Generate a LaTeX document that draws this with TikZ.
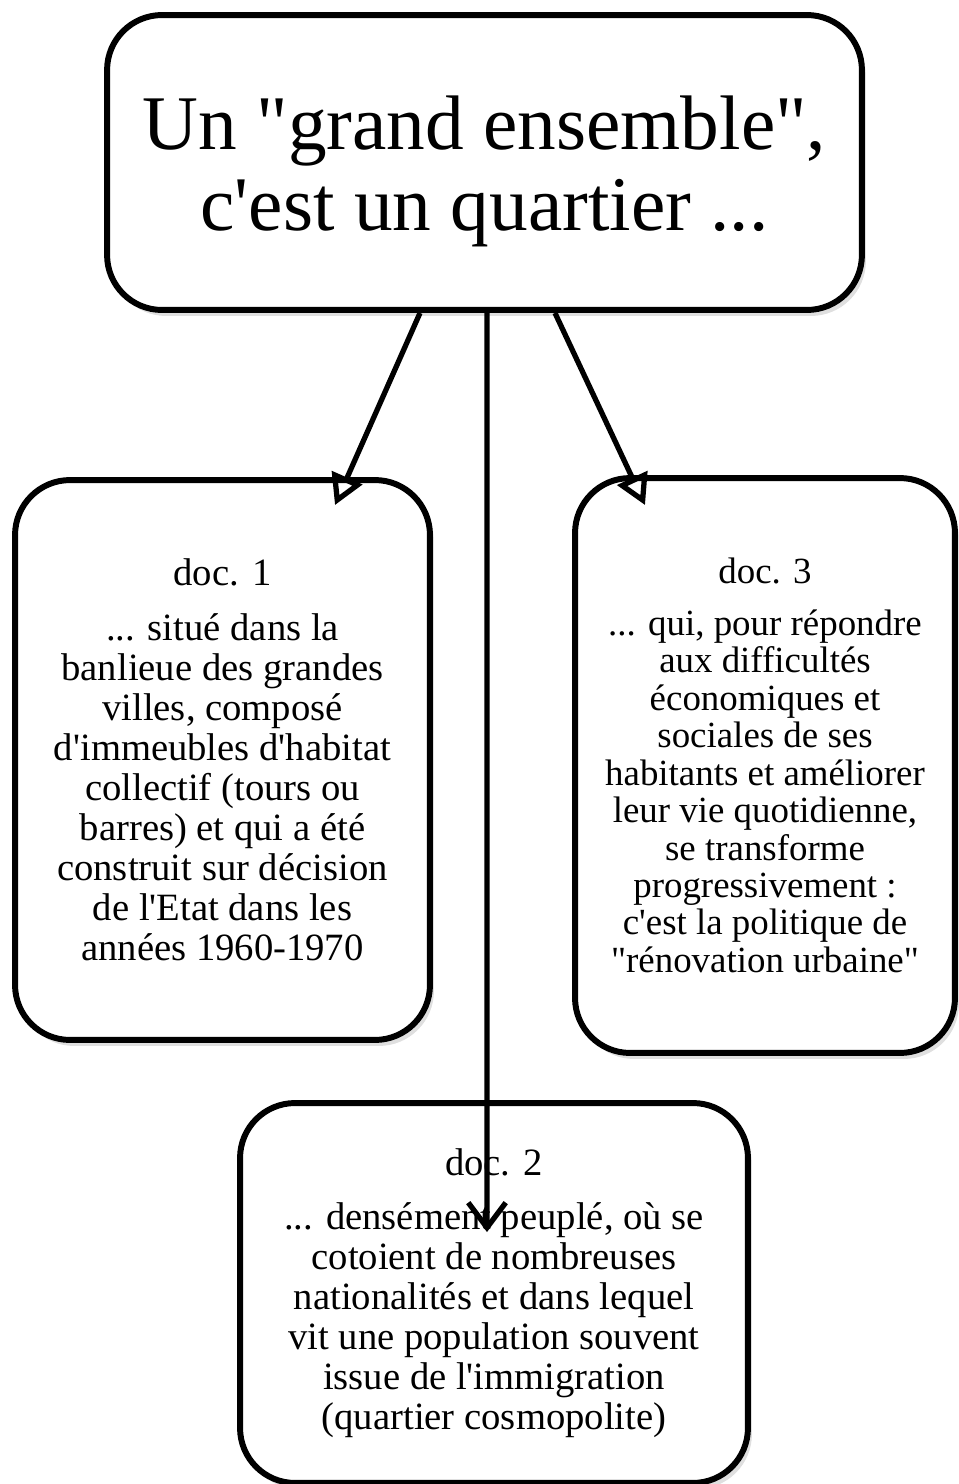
\documentclass[tikz,border=0pt]{standalone}
\usepackage{fontspec}
\setmainfont{Liberation Serif}[Ligatures=TeXOff]
\usetikzlibrary{arrows.meta,shadows}

\tikzset{
  docbox/.style={draw, rounded corners=1.1cm, line width=3.4pt, align=center,
    fill=white, drop shadow={shadow xshift=0.08cm, shadow yshift=-0.12cm, opacity=0.25}},
  docarrow/.style={line width=3pt, -{Straight Barb[length=5mm,width=7.5mm,line width=3pt]}},
  sidearrow/.style={line width=3pt, -{Triangle[open,length=6mm,width=6.5mm,line width=3pt]}}
}

\begin{document}
\begin{tikzpicture}[x=0.02cm, y=-0.02cm]
  \useasboundingbox (0,0) rectangle (959,1484);

  \node [docbox, minimum width=15.1cm, minimum height=5.9cm] (top) at (484.5,162.5) {};
  \node [align=center, font=\fontsize{44}{46}\selectfont]
     (title) at (484.5,171) {Un "grand ensemble",\\c'est un quartier ...};

  \node [docbox, minimum width=8.3cm, minimum height=11.2cm,
         font=\fontsize{22}{22.8}\selectfont]
     (doc1) at (222.5,760) {doc. 1\\[8pt]
       ... situé dans la\\banlieue des grandes\\villes, composé\\d'immeubles d'habitat\\
       collectif (tours ou\\barres) et qui a été\\construit sur décision\\
       de l'Etat dans les\\années 1960-1970};

  \node [docbox, minimum width=7.6cm, minimum height=11.5cm,
         font=\fontsize{21}{21.3}\selectfont]
     (doc3) at (765,765.5) {doc. 3\\[8pt]
       ... qui, pour répondre\\aux difficultés\\économiques et\\sociales de ses\\
       habitants et améliorer\\leur vie quotidienne,\\se transforme\\
       progressivement :\\c'est la politique de\\"rénovation urbaine"};

  \node [docbox, minimum width=10.16cm, minimum height=7.6cm,
         font=\fontsize{22}{22.8}\selectfont]
     (doc2) at (494,1293) {doc. 2\\[8pt]
       ... densément peuplé, où se\\cotoient de nombreuses\\nationalités et dans lequel\\
       vit une population souvent\\issue de l'immigration\\(quartier cosmopolite)};

  % arrow ends
  \coordinate (e1) at (335,505);
  \coordinate (e3) at (645,505);
  \coordinate (e2) at (487,1232);

  \draw [sidearrow] ([xshift=-1.29cm]top.south) -- (e1);
  \draw [sidearrow] ([xshift=1.41cm]top.south) -- (e3);
  \draw [docarrow] ([xshift=0.05cm]top.south) -- (e2);

\end{tikzpicture}
\end{document}
